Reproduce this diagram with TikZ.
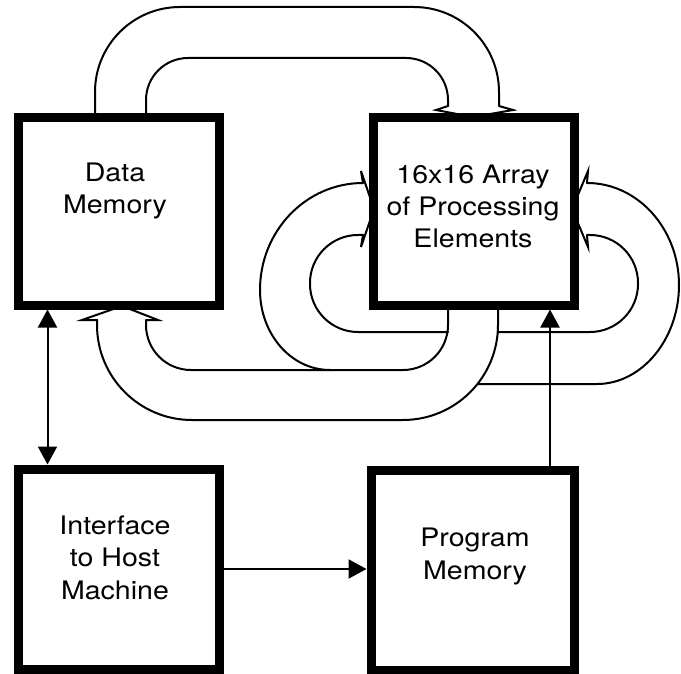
\documentclass[tikz,border=0pt]{standalone}
\usepackage{fontspec}
\setmainfont{TeX Gyre Heros}[FakeStretch=1.12]
\usetikzlibrary{arrows.meta}
\begin{document}
\begin{tikzpicture}[x=1pt,y=-1pt,
  blk/.style={draw, line width=9pt, fill=white, inner sep=0pt},
  lbl/.style={align=center, inner sep=0pt, font=\fontsize{25.5pt}{32.5pt}\selectfont},
  wire/.style={line width=2pt, line join=round, line cap=round},
  arr/.style={wire, -{Triangle[length=18pt,width=19pt]}},
  darr/.style={wire, {Triangle[length=18pt,width=19pt]}-{Triangle[length=18pt,width=19pt]}}]
\fill[white] (0,0) rectangle (681,674);
\useasboundingbox (0,0) rectangle (681,674);

% ---- top band: Data Memory -> Array ----
\draw[wire, rounded corners=85pt] (95,114) -- (95,7) -- (499,7) -- (499,106);
\draw[wire, rounded corners=42pt] (146,114) -- (146,58) -- (448,58) -- (448,106);
\draw[wire, line join=miter] (499,106) -- (513,110) -- (473,117) -- (436,110) -- (448,106);

% ---- left C band (behind) ----
\draw[wire] (363,183) .. controls (306,183) and (260,231) .. (260,290)
            .. controls (260,334) and (291,370) .. (330,370);
\draw[wire, rounded corners=48pt] (363,235) -- (310,235) -- (310,332) -- (448,332);
\draw[wire, line join=miter] (363,183) -- (361,171) -- (374,209) -- (361,247) -- (363,235);

% ---- right C band (behind) ----
\draw[wire] (587,183) .. controls (638,183) and (679,229) .. (679,285)
            .. controls (679,339) and (642,384) .. (597,384) -- (478,384);
\draw[wire, rounded corners=48pt] (587,235) -- (638,235) -- (638,332) -- (498,332);
\draw[wire, line join=miter] (587,183) -- (588,171) -- (572,209) -- (588,247) -- (587,235);

% ---- bottom band: Array -> Data Memory ----
\draw[wire, rounded corners=95pt] (97,320) -- (97,420) -- (498,420) -- (498,310);
\draw[wire, rounded corners=45pt] (146,320) -- (146,370) -- (448,370) -- (448,310);
\draw[wire, line join=miter] (97,320) -- (82,320) -- (122,306) -- (158,320) -- (146,320);

% ---- blocks ----
\node[blk, minimum width=201pt, minimum height=187pt] (dm) at (118.5,211.5) {};
\node[blk, minimum width=201pt, minimum height=187pt] (pe) at (473.5,211.5) {};
\node[blk, minimum width=201pt, minimum height=200pt] (hi) at (118.5,569) {};
\node[blk, minimum width=203pt, minimum height=200pt] (pm) at (472.5,570) {};

\node[lbl, anchor=base] (dmt) at (115,214) {Data\\Memory};
\node[lbl, anchor=base] (pet) at (473,248) {16x16 Array\\of Processing\\Elements};
\node[lbl, anchor=base] (hit) at (115,599) {Interface\\to Host\\Machine};
\node[lbl, anchor=base] (pmt) at (475,579) {Program\\Memory};

% ---- plain connectors ----
\draw[darr] ([xshift=34pt]dm.south west) -- ([xshift=34pt]hi.north west);
\draw[arr] (hi.east) -- (hi.east -| pm.west);
\coordinate (pmx) at (550,0);
\draw[arr] (pmx |- pm.north) -- (pmx |- pe.south);
\end{tikzpicture}
\end{document}
